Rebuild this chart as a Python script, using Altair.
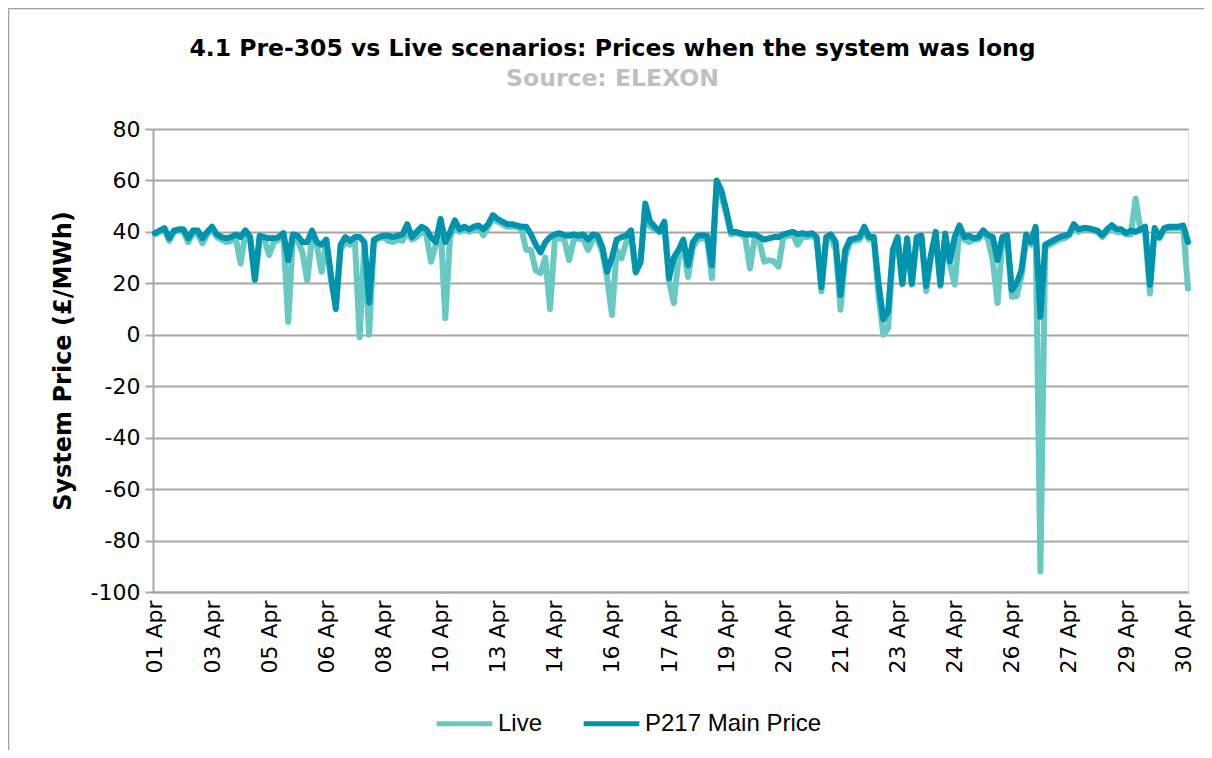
import json
import altair as alt
import pandas as pd

# Category tick labels (every 12th half-hour period shown on the axis)
tick_labels = ["01 Apr", "03 Apr", "05 Apr", "06 Apr", "08 Apr", "10 Apr", "13 Apr",
               "14 Apr", "16 Apr", "17 Apr", "19 Apr", "20 Apr", "21 Apr", "23 Apr",
               "24 Apr", "26 Apr", "27 Apr", "29 Apr", "30 Apr"]
label_step = 12

series_names = ["Live", "P217 Main Price"]

p217 = [
    39.5, 40.5, 41.5, 37.5, 40.5, 41, 41, 37.5, 40.5, 40.5, 37.5, 40, 42,
    39, 38, 37.5, 38, 39, 38, 40.6, 38, 21.5, 38.5, 38, 37.5,
    37.5, 38, 39.5, 29, 39, 38.5, 36, 36, 40.5, 36, 35, 37,
    23, 10, 35, 38, 36.5, 38, 38, 36, 12.5, 37, 38, 38.5,
    38.5, 38, 38.5, 39, 43, 38, 40, 42, 41, 38, 36, 45,
    36, 40, 44.5, 41, 42, 41, 42, 42.5, 41, 43, 46.5, 45,
    44, 43, 43, 42.5, 42, 42, 39, 35, 32, 36, 38, 39,
    39.5, 38.7, 38.5, 39, 38.5, 39, 37, 39, 38.5, 34, 24.5, 30,
    37, 38, 38.5, 40.6, 24.5, 28.4, 51, 44, 42, 40, 44, 22,
    30, 33, 37, 27, 36, 38.5, 38.7, 38.5, 27, 60, 56, 48.5,
    40, 40, 39.5, 39, 39, 39, 38, 37, 37.5, 38, 38, 39,
    39.5, 40, 39, 39.5, 39, 39.5, 38, 18.5, 38, 39, 36, 15.5,
    33, 37, 37.5, 38, 42, 38, 38, 20, 6, 9, 33, 38,
    20, 37.5, 20, 38, 38.5, 19, 31, 40, 19.5, 39.4, 28.5, 38,
    42.5, 38, 38.5, 37.5, 38, 40.6, 38.7, 38, 29, 38, 38.7, 17.4,
    20, 25, 39, 36, 42, 7, 35, 36, 37, 38, 38.5, 39,
    43, 41, 41.5, 41.5, 41, 40.5, 38.7, 41, 42.6, 41, 41, 39.5,
    40.5, 40, 41, 42, 19.4, 41.5, 38, 41.5, 42, 42, 42, 42.5, 36,
]

live = [
    39, 40, 41, 36.5, 40, 40.5, 40, 36, 39.5, 39, 35.5, 39, 41,
    38, 37, 36, 36.5, 37.5, 27.7, 39.5, 37, 21, 37.5, 37, 31,
    36, 37, 38, 5, 38, 36.5, 32, 21, 38, 35, 24.5, 36,
    21, 11, 33, 36, 35, 37, -1, 35, 0, 36, 37.5, 38,
    36.5, 36, 37, 36.5, 40, 37, 38, 40, 39, 28.4, 35, 42,
    6.5, 38, 42, 40, 41, 40, 41, 41.5, 38.7, 42, 45, 44,
    43, 42, 42, 42, 41, 33, 33, 25, 24, 30, 10, 37,
    37.5, 37, 29, 37, 37.5, 37, 33, 37, 37, 32, 22, 7.7,
    33, 29.7, 36, 39, 24, 28, 49, 42, 41, 41, 42, 21,
    12.3, 30, 34, 22.5, 34, 37, 37.5, 37, 22, 58, 54, 47,
    39, 39.5, 39, 38, 25.8, 38, 36, 28.4, 29, 28.5, 26.5, 38,
    38.5, 39, 35, 38, 38, 38.5, 37, 16.8, 37, 38, 33, 9.7,
    30, 36, 36.5, 37, 40, 37, 37, 15, 0, 2.5, 30, 37,
    19.5, 36, 19.4, 37, 37.5, 17, 30, 38, 19, 38, 27, 19.5,
    41, 37, 36, 37, 37, 40, 37, 29, 12.3, 37, 37.5, 14.8,
    15, 22.6, 37, 35, 41, -92, 34, 35, 36, 37, 37.5, 38.5,
    42, 40, 41, 41, 40.5, 40, 38, 40, 42, 40, 40, 39,
    39, 53, 41, 40, 16, 40.5, 37.5, 41, 41.5, 41.5, 41.5, 41.5, 18,
]

rows = []
for name, vals in zip(series_names, [live, p217]):
    for i, v in enumerate(vals):
        rows.append({"idx": i, "price": v, "series": name})
df = pd.DataFrame(rows)

n_last = len(p217) - 1
label_expr = json.dumps(tick_labels) + "[round(datum.value / %d)]" % label_step
tick_vals = [i * label_step for i in range(len(tick_labels))]

AXIS_FONT = "DejaVu Sans"
GRID = "#A6A6A6"

lines = alt.Chart(df).mark_line(strokeJoin="round", strokeCap="round", strokeWidth=6).encode(
    x=alt.X("idx:Q",
            scale=alt.Scale(domain=[-0.4, n_last], nice=False, zero=False),
            axis=alt.Axis(values=tick_vals, labelExpr=label_expr, labelAngle=270,
                          title=None, grid=False, ticks=False, domain=True,
                          domainColor=GRID, domainWidth=2,
                          labelFont=AXIS_FONT, labelFontSize=22, labelColor="black",
                          labelPadding=8, labelOverlap=False, labelFlush=False)),
    y=alt.Y("price:Q",
            scale=alt.Scale(domain=[-100, 80], nice=False),
            axis=alt.Axis(values=list(range(-100, 81, 20)), title="System Price (£/MWh)",
                          labelExpr="toString(datum.value)",
                          grid=True, gridColor=GRID, gridWidth=2,
                          domain=True, domainColor=GRID, domainWidth=2,
                          ticks=True, tickColor=GRID, tickSize=8, tickWidth=2,
                          labelFont=AXIS_FONT, labelFontSize=22, labelColor="black",
                          labelPadding=5,
                          titleFont=AXIS_FONT, titleFontSize=24, titleFontWeight="bold",
                          titleColor="black", titlePadding=15)),
    color=alt.Color("series:N",
                    scale=alt.Scale(domain=series_names, range=["#68C9C3", "#0093AE"]),
                    legend=alt.Legend(title=None, orient="none", direction="horizontal",
                                      legendX=281, legendY=564,
                                      symbolType="stroke", symbolSize=3100,
                                      symbolStrokeWidth=5, labelFont="Liberation Sans",
                                      labelFontSize=24, labelColor="black",
                                      labelLimit=400,
                                      labelOffset=3, columnPadding=30)),
    order=alt.Order("idx:Q"),
)

frame_df = pd.DataFrame({"k": [0]})
frame_v = alt.Chart(frame_df).mark_rule(color="#A0A0A0", strokeWidth=1.5).encode(
    x=alt.value(-144.5), y=alt.value(-120.5), y2=alt.value(660))
frame_h = alt.Chart(frame_df).mark_rule(color="#A0A0A0", strokeWidth=1.5).encode(
    x=alt.value(-144.5), x2=alt.value(1070), y=alt.value(-120.5))

chart = alt.layer(frame_v, frame_h, lines).properties(
    width=1035, height=463,
    autosize=alt.AutoSizeParams(type="none"),
    padding={"left": 145, "top": 121, "right": 16, "bottom": 158},
    title=alt.TitleParams(
        text="4.1 Pre-305 vs Live scenarios: Prices when the system was long",
        subtitle="Source: ELEXON",
        font="DejaVu Sans", fontSize=23.5, fontWeight="bold", color="black",
        subtitleFont="DejaVu Sans", subtitleFontSize=23.5, subtitleFontWeight="bold",
        subtitleColor="#BFBFBF", subtitlePadding=7,
        anchor="middle", frame="group", dx=-58, offset=-83),
).configure_view(stroke=None).configure(background="white")

chart.save("out.html", embed_options={"renderer": "svg", "actions": False})
